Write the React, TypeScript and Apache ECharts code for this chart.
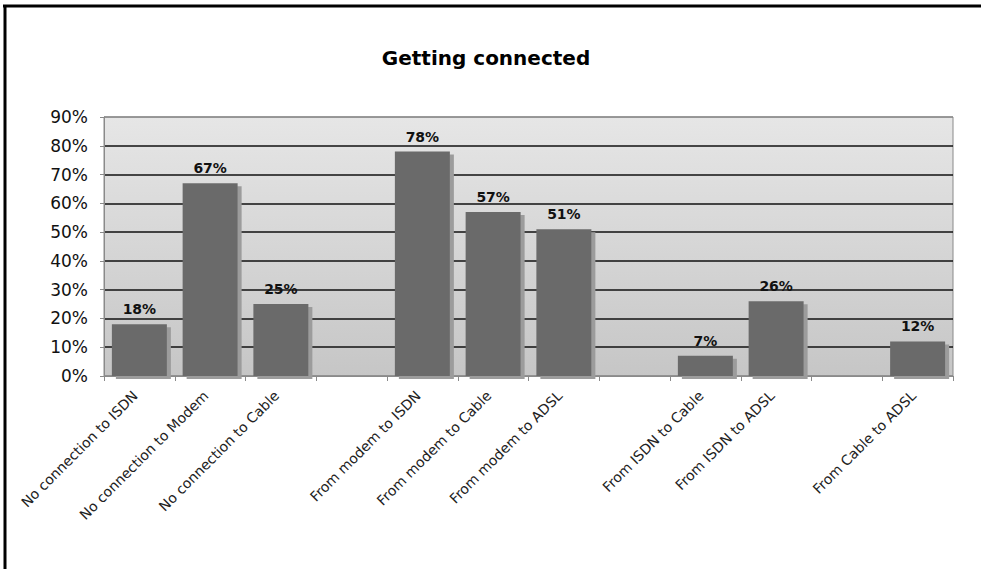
import React, { useEffect, useRef } from "react";
import * as echarts from "echarts";

const categories: string[] = [
  "No connection to ISDN",
  "No connection to Modem",
  "No connection to Cable",
  "",
  "From modem to ISDN",
  "From modem to Cable",
  "From modem to ADSL",
  "",
  "From ISDN to Cable",
  "From ISDN to ADSL",
  "",
  "From Cable to ADSL",
];

const values: (number | null)[] = [18, 67, 25, null, 78, 57, 51, null, 7, 26, null, 12];

const title = "Getting connected";
const yMin = 0;
const yMax = 90;
const yInterval = 10;

export default function App() {
  const ref = useRef<HTMLDivElement>(null);

  useEffect(() => {
    if (!ref.current) return;
    const chart = echarts.init(ref.current, null, { renderer: "svg" });
    const font = "'DejaVu Sans', Verdana, sans-serif";
    const splitColors = ["#8a8a8a", "#111", "#111", "#111", "#111", "#111", "#111", "#111", "#111", "#8a8a8a"];
    chart.setOption({
      animation: false,
      backgroundColor: "#ffffff",
      title: {
        text: title,
        left: 481,
        top: 43,
        textAlign: "center",
        textStyle: { fontFamily: font, fontSize: 20, fontWeight: "bold", color: "#000" },
      },
      graphic: [
        { type: "line", shape: { x1: 3, y1: 6, x2: 981, y2: 6 }, style: { stroke: "#000", lineWidth: 3 } },
        { type: "line", shape: { x1: 5, y1: 5, x2: 5, y2: 569 }, style: { stroke: "#000", lineWidth: 3 } },
      ],
      grid: {
        left: 104,
        top: 117,
        right: 28,
        bottom: 193,
        show: true,
        borderColor: "#8a8a8a",
        borderWidth: 1,
        backgroundColor: new echarts.graphic.LinearGradient(0, 0, 0, 1, [
          { offset: 0, color: "#e6e6e6" },
          { offset: 1, color: "#c6c6c6" },
        ]),
      },
      xAxis: {
        type: "category",
        data: categories,
        boundaryGap: true,
        axisLine: { show: true, lineStyle: { color: "#8a8a8a", width: 1 } },
        axisTick: { show: true, interval: 0, length: 5, lineStyle: { color: "#8a8a8a" } },
        axisLabel: {
          interval: 0,
          rotate: 45,
          margin: 13,
          padding: [0, 6, 0, 0],
          fontFamily: font,
          fontSize: 14,
          color: "#222",
        },
        splitLine: { show: false },
      },
      yAxis: {
        type: "value",
        min: yMin,
        max: yMax,
        interval: yInterval,
        axisLine: { show: true, lineStyle: { color: "#8a8a8a" } },
        axisTick: { show: true, length: 4, lineStyle: { color: "#8a8a8a" } },
        axisLabel: {
          formatter: "{value}%",
          margin: 16,
          fontFamily: font,
          fontSize: 17,
          color: "#111",
        },
        splitLine: { show: true, lineStyle: { color: splitColors, width: 1.5 } },
      },
      series: [
        {
          type: "bar",
          data: values,
          barWidth: 55,
          itemStyle: {
            color: "#6b6b6b",
            shadowColor: "#9c9c9c",
            shadowBlur: 0,
            shadowOffsetX: 4,
            shadowOffsetY: 3,
          },
          label: {
            show: true,
            position: "top",
            distance: 8,
            formatter: "{c}%",
            fontFamily: font,
            fontSize: 14,
            fontWeight: "bold",
            color: "#111",
          },
        },
      ],
    });
    return () => chart.dispose();
  }, []);

  return (
    <div
      ref={ref}
      style={{ position: "absolute", left: 0, top: 0, width: 981, height: 569, background: "#fff" }}
    />
  );
}
